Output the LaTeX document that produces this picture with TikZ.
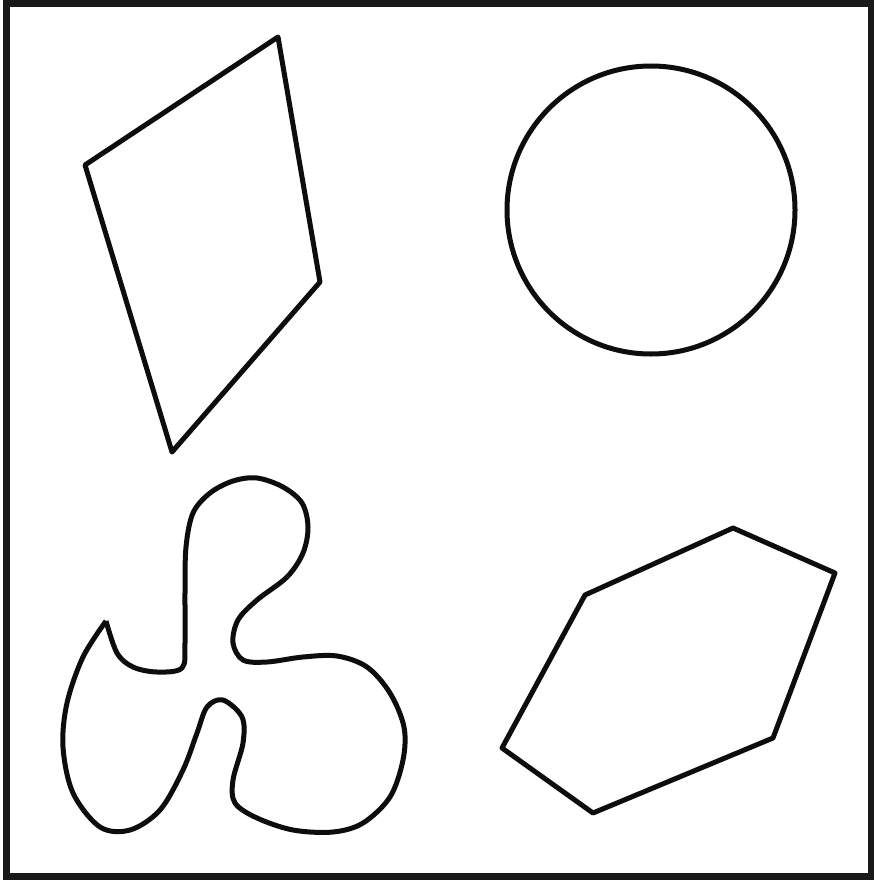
\documentclass[tikz,border=0pt]{standalone}
\begin{document}
\begin{tikzpicture}[x=1pt,y=-1pt,
  shapeline/.style={draw=black!95,line width=5pt,line join=round},
  frameline/.style={draw=black!90,line width=7pt}]
\useasboundingbox (0,0) rectangle (874,880);
\fill[white] (0,0) rectangle (874,880);
% frame
\draw[frameline] (6.5,4) rectangle (871.5,876.5);
% quadrilateral
\draw[shapeline] (278,37) -- (85,165) -- (172,452) -- (320,282) -- cycle;
% circle
\draw[shapeline] (651,210) circle (144);
% hexagon
\draw[shapeline] (733,528) -- (835,573) -- (773,738) -- (593,813) -- (502,748) -- (585,595) -- cycle;
% blob
\draw[shapeline] plot[smooth,tension=0.55] coordinates {
 (106,621) (117,653) (133,667) (157,672) (182,668) (185,643) (185,593)
 (186,547) (193,513) (210,493) (233,481) (257,478) (283,487) (302,503)
 (308,527) (303,553) (287,577) (257,600) (238,620) (233,643) (243,660)
 (267,662) (303,657) (337,656) (367,667) (390,693) (404,727) (403,760)
 (390,797) (363,823) (333,832) (293,830) (257,818) (235,803) (233,780)
 (243,743) (242,717) (223,700) (207,707) (197,733) (183,770) (160,810)
 (130,830) (100,827) (73,793) (63,747) (67,703) (83,657) (106,621)};
\end{tikzpicture}
\end{document}
